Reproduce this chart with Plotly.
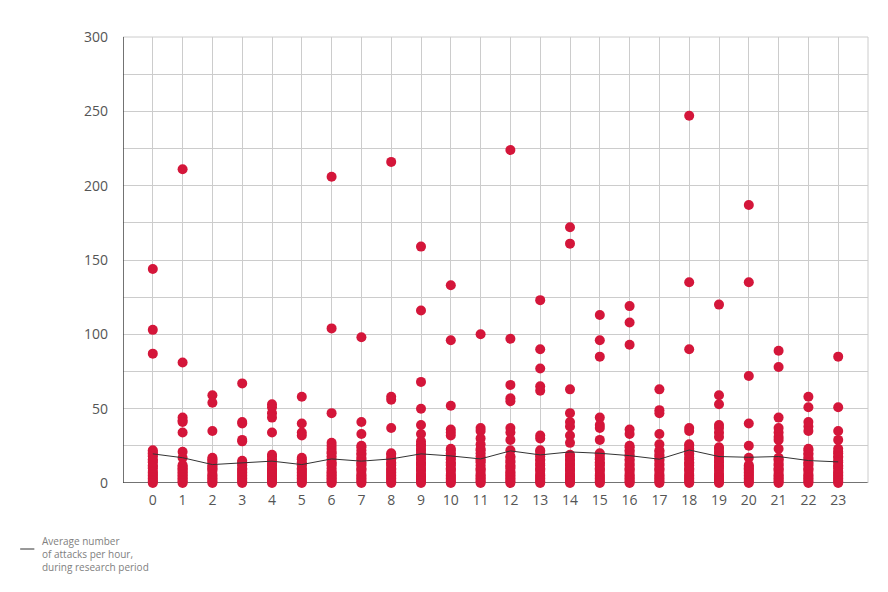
import plotly.graph_objects as go

# hours of the day
hours = list(range(24))

# attacks per hour, one list per hour of the day (each value = one day of the research period)
attacks = {
    0: [144, 103, 87, 22, 21, 20, 19, 18, 16, 15, 14, 12, 11, 10, 8, 7, 6, 5, 4, 3, 2, 1, 0],
    1: [211, 81, 44, 42, 41, 34, 21, 17, 12, 11, 10, 9, 8, 7, 6, 5, 4, 3, 2, 1, 0],
    2: [59, 54, 35, 17, 16, 15, 14, 12, 11, 10, 9, 8, 6, 5, 4, 3, 2, 1, 0],
    3: [67, 41, 40, 29, 28, 15, 14, 13, 12, 10, 9, 8, 7, 6, 5, 4, 3, 2, 1, 0],
    4: [53, 51, 47, 44, 34, 19, 18, 16, 15, 13, 12, 10, 9, 8, 7, 6, 5, 4, 3, 2, 1, 0],
    5: [58, 40, 34, 32, 17, 16, 14, 13, 12, 10, 9, 8, 7, 6, 5, 4, 3, 2, 1, 0],
    6: [206, 104, 47, 27, 25, 23, 21, 20, 18, 16, 14, 13, 12, 10, 8, 7, 6, 5, 4, 3, 2, 1, 0],
    7: [98, 41, 33, 25, 24, 22, 20, 19, 17, 16, 14, 13, 12, 10, 9, 8, 6, 5, 4, 3, 2, 1, 0],
    8: [216, 58, 56, 37, 20, 19, 17, 16, 14, 13, 12, 10, 9, 8, 7, 6, 5, 4, 3, 2, 1, 0],
    9: [159, 116, 68, 50, 39, 33, 28, 26, 25, 23, 22, 20, 19, 17, 16, 14, 13, 12, 10, 9, 8, 6, 5, 4, 3, 2, 1, 0],
    10: [133, 96, 52, 36, 34, 32, 23, 22, 20, 19, 17, 16, 14, 13, 12, 10, 9, 8, 6, 5, 4, 3, 2, 1, 0],
    11: [100, 37, 35, 30, 26, 23, 22, 20, 18, 16, 15, 14, 12, 10, 9, 8, 6, 5, 4, 3, 2, 1, 0],
    12: [224, 97, 66, 57, 55, 37, 34, 29, 22, 18, 17, 15, 14, 12, 11, 10, 8, 7, 6, 5, 4, 3, 2, 1, 0],
    13: [123, 90, 77, 65, 62, 32, 30, 22, 21, 19, 18, 16, 15, 13, 12, 10, 9, 8, 6, 5, 4, 3, 2, 1, 0],
    14: [172, 161, 63, 47, 41, 38, 32, 27, 19, 18, 16, 15, 13, 12, 10, 9, 8, 6, 5, 4, 3, 2, 1, 0],
    15: [113, 96, 85, 44, 39, 37, 29, 20, 19, 17, 16, 14, 13, 12, 10, 9, 8, 6, 5, 4, 3, 2, 1, 0],
    16: [119, 108, 93, 36, 33, 25, 24, 22, 21, 19, 18, 16, 15, 13, 12, 10, 9, 8, 6, 5, 4, 3, 2, 1, 0],
    17: [63, 49, 47, 33, 26, 22, 21, 19, 18, 16, 15, 13, 12, 10, 9, 8, 6, 5, 4, 3, 2, 1, 0],
    18: [247, 135, 90, 37, 35, 26, 25, 23, 22, 20, 19, 17, 16, 14, 13, 12, 10, 9, 8, 6, 5, 4, 3, 2, 1, 0],
    19: [120, 59, 53, 39, 37, 34, 31, 24, 23, 21, 20, 18, 17, 15, 14, 12, 11, 10, 8, 6, 5, 4, 3, 2, 1, 0],
    20: [187, 135, 72, 40, 25, 17, 12, 11, 10, 9, 8, 7, 6, 5, 4, 3, 2, 1, 0],
    21: [89, 78, 44, 37, 34, 31, 29, 23, 17, 16, 15, 13, 12, 10, 9, 8, 6, 5, 4, 3, 2, 1, 0],
    22: [58, 51, 41, 38, 35, 23, 22, 20, 19, 17, 16, 14, 13, 12, 10, 9, 8, 6, 5, 4, 3, 2, 1, 0],
    23: [85, 51, 35, 29, 23, 21, 20, 18, 17, 15, 14, 12, 11, 10, 8, 7, 6, 5, 4, 3, 2, 1, 0],
}

# average number of attacks per hour
average = [19.6, 17.0, 12.4, 13.3, 14.7, 12.4, 16.2, 14.7, 16.2, 19.6, 18.2, 16.2,
           21.6, 18.9, 20.9, 20.0, 18.4, 16.0, 22.2, 17.8, 17.3, 17.8, 15.1, 14.2]

red = "#d4163a"
grey_text = "#555555"

xs, ys = [], []
for h in hours:
    for v in attacks[h]:
        xs.append(h)
        ys.append(v)

fig = go.Figure()

fig.add_trace(go.Scatter(
    x=xs, y=ys,
    mode="markers",
    marker=dict(color=red, size=10, line=dict(width=0)),
    cliponaxis=False,
    showlegend=False,
    name="attacks",
))

fig.add_trace(go.Scatter(
    x=hours, y=average,
    mode="lines",
    line=dict(color="#333333", width=1),
    showlegend=False,
    name="Average number of attacks per hour, during research period",
))

# legend drawn by hand, bottom left
fig.add_shape(type="line", xref="paper", yref="paper",
              x0=-0.138, x1=-0.119, y0=-0.148, y1=-0.148,
              line=dict(color="#333333", width=1))
fig.add_annotation(
    xref="paper", yref="paper", x=-0.1114, y=-0.11,
    xanchor="left", yanchor="top", align="left", showarrow=False,
    text="Average number<br>of attacks per hour,<br>during research period",
    font=dict(size=10, color="#808080"),
)

fig.update_xaxes(
    range=[-1, 24],
    tickvals=hours,
    showgrid=True, gridcolor="#cccccc", gridwidth=1,
    zeroline=False,
    showline=False,
    ticks="",
    ticklabelstandoff=7,
    tickfont=dict(size=14, color=grey_text),
)
fig.update_yaxes(
    range=[0, 300],
    dtick=50,
    showgrid=True, gridcolor="#cccccc", gridwidth=1,
    minor=dict(dtick=25, showgrid=True, gridcolor="#cccccc", gridwidth=1),
    zeroline=False,
    showline=False,
    ticks="",
    ticklabelstandoff=14,
    tickfont=dict(size=14, color=grey_text),
)

# dark axis lines (left and bottom), light frame right and top
fig.add_shape(type="line", xref="x", yref="paper", x0=-1, x1=-1, y0=0, y1=1,
              line=dict(color="#444444", width=1.5), layer="above")
fig.add_shape(type="line", xref="paper", yref="y", x0=0, x1=1, y0=0, y1=0,
              line=dict(color="#444444", width=1.5), layer="below")
fig.add_shape(type="line", xref="paper", yref="paper", x0=1, x1=1, y0=0, y1=1,
              line=dict(color="#cccccc", width=1), layer="below")
fig.add_shape(type="line", xref="paper", yref="paper", x0=0, x1=1, y0=1, y1=1,
              line=dict(color="#cccccc", width=1), layer="below")

# page body adds an 8px offset, margins compensate for it
fig.update_layout(
    width=888, height=592,
    margin=dict(l=115, r=28, t=29, b=117),
    plot_bgcolor="white", paper_bgcolor="white",
    font=dict(family="Open Sans, Noto Sans, sans-serif", color=grey_text),
)

fig.write_html("out.html")
